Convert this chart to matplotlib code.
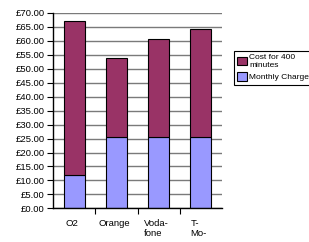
import matplotlib
matplotlib.use("Agg")
import matplotlib.pyplot as plt
from matplotlib.ticker import FuncFormatter, FixedLocator
from matplotlib.patches import Patch

plt.rcParams['font.family'] = ['Liberation Sans', 'DejaVu Sans']

# data (GBP)
providers = ["O2", "Orange", "Voda-\nfone", "T-\nMo-"]
monthly_charge = [12.0, 25.5, 25.5, 25.5]
cost_400_min = [55.3, 28.5, 35.2, 38.8]

series_labels = ["Cost for 400\nminutes", "Monthly Charge"]
maroon = "#993366"
lavender = "#9999FF"

W, H = 309, 242
fig = plt.figure(figsize=(W / 100, H / 100), dpi=100)
ax = fig.add_axes([53 / W, (H - 208.3) / H, (222 - 53) / W, (208.3 - 13) / H])

x = list(range(len(providers)))
ax.bar(x, monthly_charge, width=0.5, color=lavender, edgecolor="black", linewidth=0.8, zorder=3)
ax.bar(x, cost_400_min, width=0.5, bottom=monthly_charge, color=maroon,
       edgecolor="black", linewidth=0.8, zorder=3)

ax.set_xlim(-0.5, len(providers) - 0.5)
ax.set_ylim(0, 70)
ax.set_yticks(range(0, 71, 5))
ax.yaxis.set_major_formatter(FuncFormatter(lambda v, p: "£%.2f" % v))
ax.grid(axis="y", color="#7a7a7a", linewidth=1.0, zorder=0)

ax.xaxis.set_major_locator(FixedLocator([0.5, 1.5, 2.5]))
ax.set_xticklabels([])
for i, name in enumerate(providers):
    ax.text(i - 0.05, -3.9, name, ha="center", va="top", fontsize=6.8,
            multialignment="left", linespacing=1.15, clip_on=False)

ax.tick_params(axis="y", length=4, width=0.8, labelsize=6.8, pad=2)
ax.tick_params(axis="x", length=4, width=0.8, direction="out")
for s in ("top", "right"):
    ax.spines[s].set_visible(False)
for s in ("left", "bottom"):
    ax.spines[s].set_color("black")
    ax.spines[s].set_linewidth(1.0)
    ax.spines[s].set_zorder(4)

handles = [Patch(facecolor=maroon, edgecolor="black", linewidth=0.8),
           Patch(facecolor=lavender, edgecolor="black", linewidth=0.8)]
leg = fig.legend(handles, series_labels, loc="upper left",
                 bbox_to_anchor=(234 / W, 1 - 50.7 / H), fontsize=6.0,
                 fancybox=False, edgecolor="black", framealpha=1,
                 handlelength=1.2, handleheight=1.2, handletextpad=0.2,
                 borderpad=0.4, labelspacing=0.4, borderaxespad=0)
leg.get_frame().set_linewidth(0.8)

fig.savefig("out.png", dpi=100)
